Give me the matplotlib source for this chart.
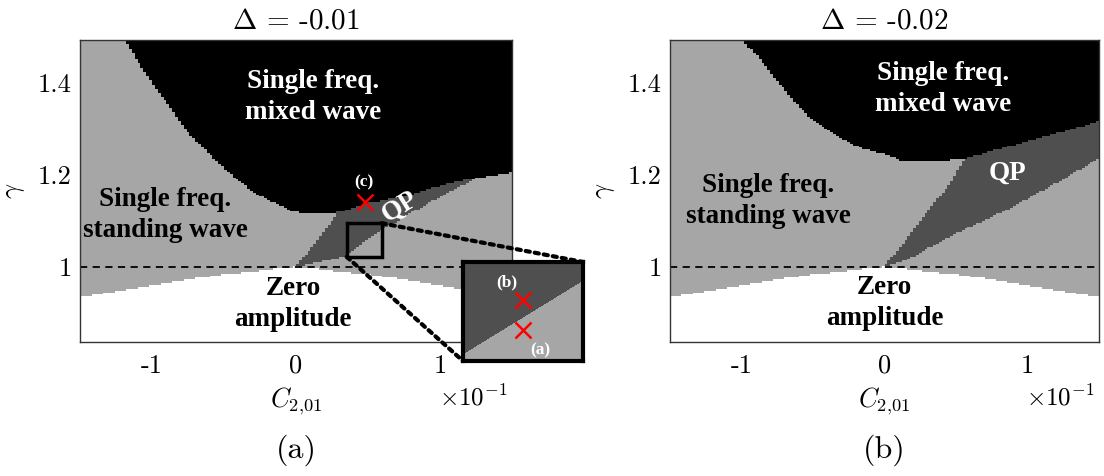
import numpy as np
import matplotlib
matplotlib.use("Agg")
import matplotlib.pyplot as plt
from matplotlib.colors import ListedColormap, BoundaryNorm
from matplotlib.patches import Rectangle, ConnectionPatch

plt.rcParams["mathtext.fontset"] = "cm"
plt.rcParams["axes.formatter.use_mathtext"] = True

# ---------------- region boundaries (C in units of 1e-1, gamma) ----------------
# lower edge of the zero-amplitude region (same in both panels)
zero_x = [-1.5, -1.33, -1.05, -0.77, -0.52, -0.31, -0.15, 0.0, 0.15, 0.31, 0.52, 0.77, 1.05, 1.33, 1.5]
zero_y = [0.935, 0.943, 0.957, 0.972, 0.983, 0.990, 0.996, 1.0, 0.996, 0.990, 0.983, 0.972, 0.957, 0.943, 0.935]

# Delta = -0.01
a_mixed_x = [-1.5, -1.19, -1.04, -0.74, -0.48, -0.27, -0.02, 0.05, 0.26, 0.40, 0.49, 0.75, 0.885, 1.07, 1.185, 1.30, 1.50]
a_mixed_y = [1.65, 1.493, 1.418, 1.288, 1.208, 1.157, 1.121, 1.117, 1.117, 1.128, 1.138, 1.153, 1.167, 1.182, 1.19, 1.195, 1.205]
a_qp_low_x = [0.0, 0.33, 0.59, 0.86, 1.09, 1.21, 1.50]
a_qp_low_y = [1.0, 1.022, 1.080, 1.128, 1.167, 1.186, 1.25]
a_qp_left_y = [1.0, 1.113]
a_qp_left_x = [0.0, 0.28]

# Delta = -0.02
b_mixed_x = [-1.5, -0.987, -0.87, -0.75, -0.635, -0.52, -0.355, -0.17, 0.015, 0.11, 0.46, 0.56, 0.855, 1.2, 1.5]
b_mixed_y = [1.70, 1.49, 1.454, 1.404, 1.36, 1.324, 1.288, 1.259, 1.244, 1.233, 1.233, 1.236, 1.261, 1.29, 1.316]
b_qp_low_x = [0.0, 0.155, 0.5, 0.855, 1.2, 1.5]
b_qp_low_y = [1.0, 1.015, 1.073, 1.124, 1.182, 1.235]
b_qp_left_y = [1.0, 1.109, 1.182, 1.225, 1.24]
b_qp_left_x = [0.0, 0.27, 0.46, 0.54, 0.56]

titles = [r"$\Delta$ = -0.01", r"$\Delta$ = -0.02"]
panel_tags = ["(a)", "(b)"]
x_ticks = [-1, 0, 1]
x_ticklabels = ["-1", "0", "1"]
y_ticks = [1.0, 1.2, 1.4]
y_ticklabels = ["1", "1.2", "1.4"]

# zoom window and sample points for panel (a)
zoom_x = [0.352, 0.595]
zoom_y = [1.022, 1.095]
point_c = (0.48, 1.141)
point_a = (0.474, 1.045)
point_b = (0.474, 1.067)

XLIM = (-1.5, 1.5)
YLIM = (0.838, 1.493)

cmap = ListedColormap(["#ffffff", "#a6a6a6", "#4f4f4f", "#000000"])
norm = BoundaryNorm([-0.5, 0.5, 1.5, 2.5, 3.5], cmap.N)


def classify(xe, ye, mixed_x, mixed_y, qlow_x, qlow_y, qleft_y, qleft_x):
    xc = 0.5 * (xe[:-1] + xe[1:])
    yc = 0.5 * (ye[:-1] + ye[1:])
    X, Y = np.meshgrid(xc, yc)
    state = np.ones_like(X)
    state[Y < np.interp(X, zero_x, zero_y)] = 0
    top = np.interp(X, mixed_x, mixed_y)
    qp = (Y >= np.interp(X, qlow_x, qlow_y)) & (X >= np.interp(Y, qleft_y, qleft_x)) & (Y <= top)
    state[qp] = 2
    state[Y > top] = 3
    return state


fig = plt.figure(figsize=(11.04, 4.76), dpi=100)
W, H = 1104.0, 476.0
ax_a = fig.add_axes([80 / W, (H - 341.5) / H, 432 / W, 301.5 / H])
ax_b = fig.add_axes([670 / W, (H - 341.5) / H, 429 / W, 301.5 / H])

xe = np.linspace(XLIM[0], XLIM[1], 151)
ye = np.linspace(YLIM[0], YLIM[1], 161)

panels = [
    (ax_a, (a_mixed_x, a_mixed_y, a_qp_low_x, a_qp_low_y, a_qp_left_y, a_qp_left_x)),
    (ax_b, (b_mixed_x, b_mixed_y, b_qp_low_x, b_qp_low_y, b_qp_left_y, b_qp_left_x)),
]

serif_b = dict(family="Liberation Serif", weight="bold", fontsize=19.5)
small_b = dict(family="Liberation Serif", weight="bold", fontsize=12.5)
LS = 1.32

for i, (ax, bnd) in enumerate(panels):
    state = classify(xe, ye, *bnd)
    ax.pcolormesh(xe, ye, state, cmap=cmap, norm=norm, shading="flat")
    ax.axhline(1.0, color="k", ls=(0, (4, 3)), lw=1.3)
    ax.set_xlim(*XLIM)
    ax.set_ylim(*YLIM)
    ax.set_xticks(x_ticks)
    ax.set_xticklabels(x_ticklabels, family="cmr10", fontsize=19)
    ax.set_yticks(y_ticks)
    ax.set_yticklabels(y_ticklabels, family="cmr10", fontsize=19)
    ax.tick_params(length=0, pad=9)
    ax.tick_params(axis="y", pad=6)
    for s in ax.spines.values():
        s.set_color("#333333")
        s.set_linewidth(1.0)
    ax.set_xlabel(r"$C_{2{,}01}$", fontsize=19, labelpad=6)
    ax.set_ylabel(r"$\gamma$", fontsize=19, labelpad=8)
    ax.set_title(titles[i], family="cmr10", fontsize=21, pad=8)
    ax.text(0.91, -0.185, r"$\times10^{-1}$", transform=ax.transAxes,
            ha="center", va="center", fontsize=18)

# labels, panel (a)
ax_a.text(0.12, 1.370, "Single freq.\nmixed wave", color="white", ha="center", va="center",
          linespacing=LS, **serif_b)
ax_a.text(-0.91, 1.113, "Single freq.\nstanding wave", color="black", ha="center", va="center",
          linespacing=LS, **serif_b)
ax_a.text(-0.02, 0.920, "Zero\namplitude", color="black", ha="center", va="center",
          linespacing=LS, **serif_b)
ax_a.text(0.72, 1.131, "QP", color="white", ha="center", va="center", rotation=32, **serif_b)
ax_a.text(0.47, 1.183, "(c)", color="white", ha="center", va="center", **small_b)
ax_a.plot(*point_c, marker="x", color="#ff0000", ms=12, mew=1.8, ls="none")
ax_a.add_patch(Rectangle((zoom_x[0], zoom_y[0]), zoom_x[1] - zoom_x[0], zoom_y[1] - zoom_y[0],
                         fill=False, ec="k", lw=2.5, zorder=5))

# labels, panel (b)
ax_b.text(0.41, 1.387, "Single freq.\nmixed wave", color="white", ha="center", va="center",
          linespacing=LS, **serif_b)
ax_b.text(-0.815, 1.143, "Single freq.\nstanding wave", color="black", ha="center", va="center",
          linespacing=LS, **serif_b)
ax_b.text(0.0, 0.921, "Zero\namplitude", color="black", ha="center", va="center",
          linespacing=LS, **serif_b)
ax_b.text(0.86, 1.204, "QP", color="white", ha="center", va="center", **serif_b)

# magnified view of the QP edge in panel (a)
ax_in = fig.add_axes([463 / W, (H - 361) / H, 120 / W, 99 / H])
xe_in = np.linspace(zoom_x[0], zoom_x[1], 121)
ye_in = np.linspace(zoom_y[0], zoom_y[1], 100)
state_in = classify(xe_in, ye_in, *panels[0][1])
ax_in.pcolormesh(xe_in, ye_in, state_in, cmap=cmap, norm=norm, shading="flat")
ax_in.set_xlim(*zoom_x)
ax_in.set_ylim(*zoom_y)
ax_in.set_xticks([])
ax_in.set_yticks([])
for s in ax_in.spines.values():
    s.set_color("k")
    s.set_linewidth(3)
ax_in.plot(*point_b, marker="x", color="#ff0000", ms=12, mew=1.8, ls="none")
ax_in.plot(*point_a, marker="x", color="#ff0000", ms=12, mew=1.8, ls="none")
ax_in.text(0.44, 1.080, "(b)", color="white", ha="center", va="center", **small_b)
ax_in.text(0.508, 1.030, "(a)", color="white", ha="center", va="center", **small_b)

for xy_main, xy_in in [((zoom_x[1], zoom_y[1]), (1, 1)), ((zoom_x[0], zoom_y[0]), (0, 0))]:
    con = ConnectionPatch(xyA=xy_main, coordsA=ax_a.transData, xyB=xy_in, coordsB=ax_in.transAxes,
                          color="k", lw=3, ls=(0, (1, 1.2)), zorder=4)
    fig.add_artist(con)

fig.text(296 / W, (H - 450) / H, panel_tags[0], family="cmr10", fontsize=23, ha="center", va="center")
fig.text(884 / W, (H - 450) / H, panel_tags[1], family="cmr10", fontsize=23, ha="center", va="center")

fig.savefig("out.png", dpi=100)
